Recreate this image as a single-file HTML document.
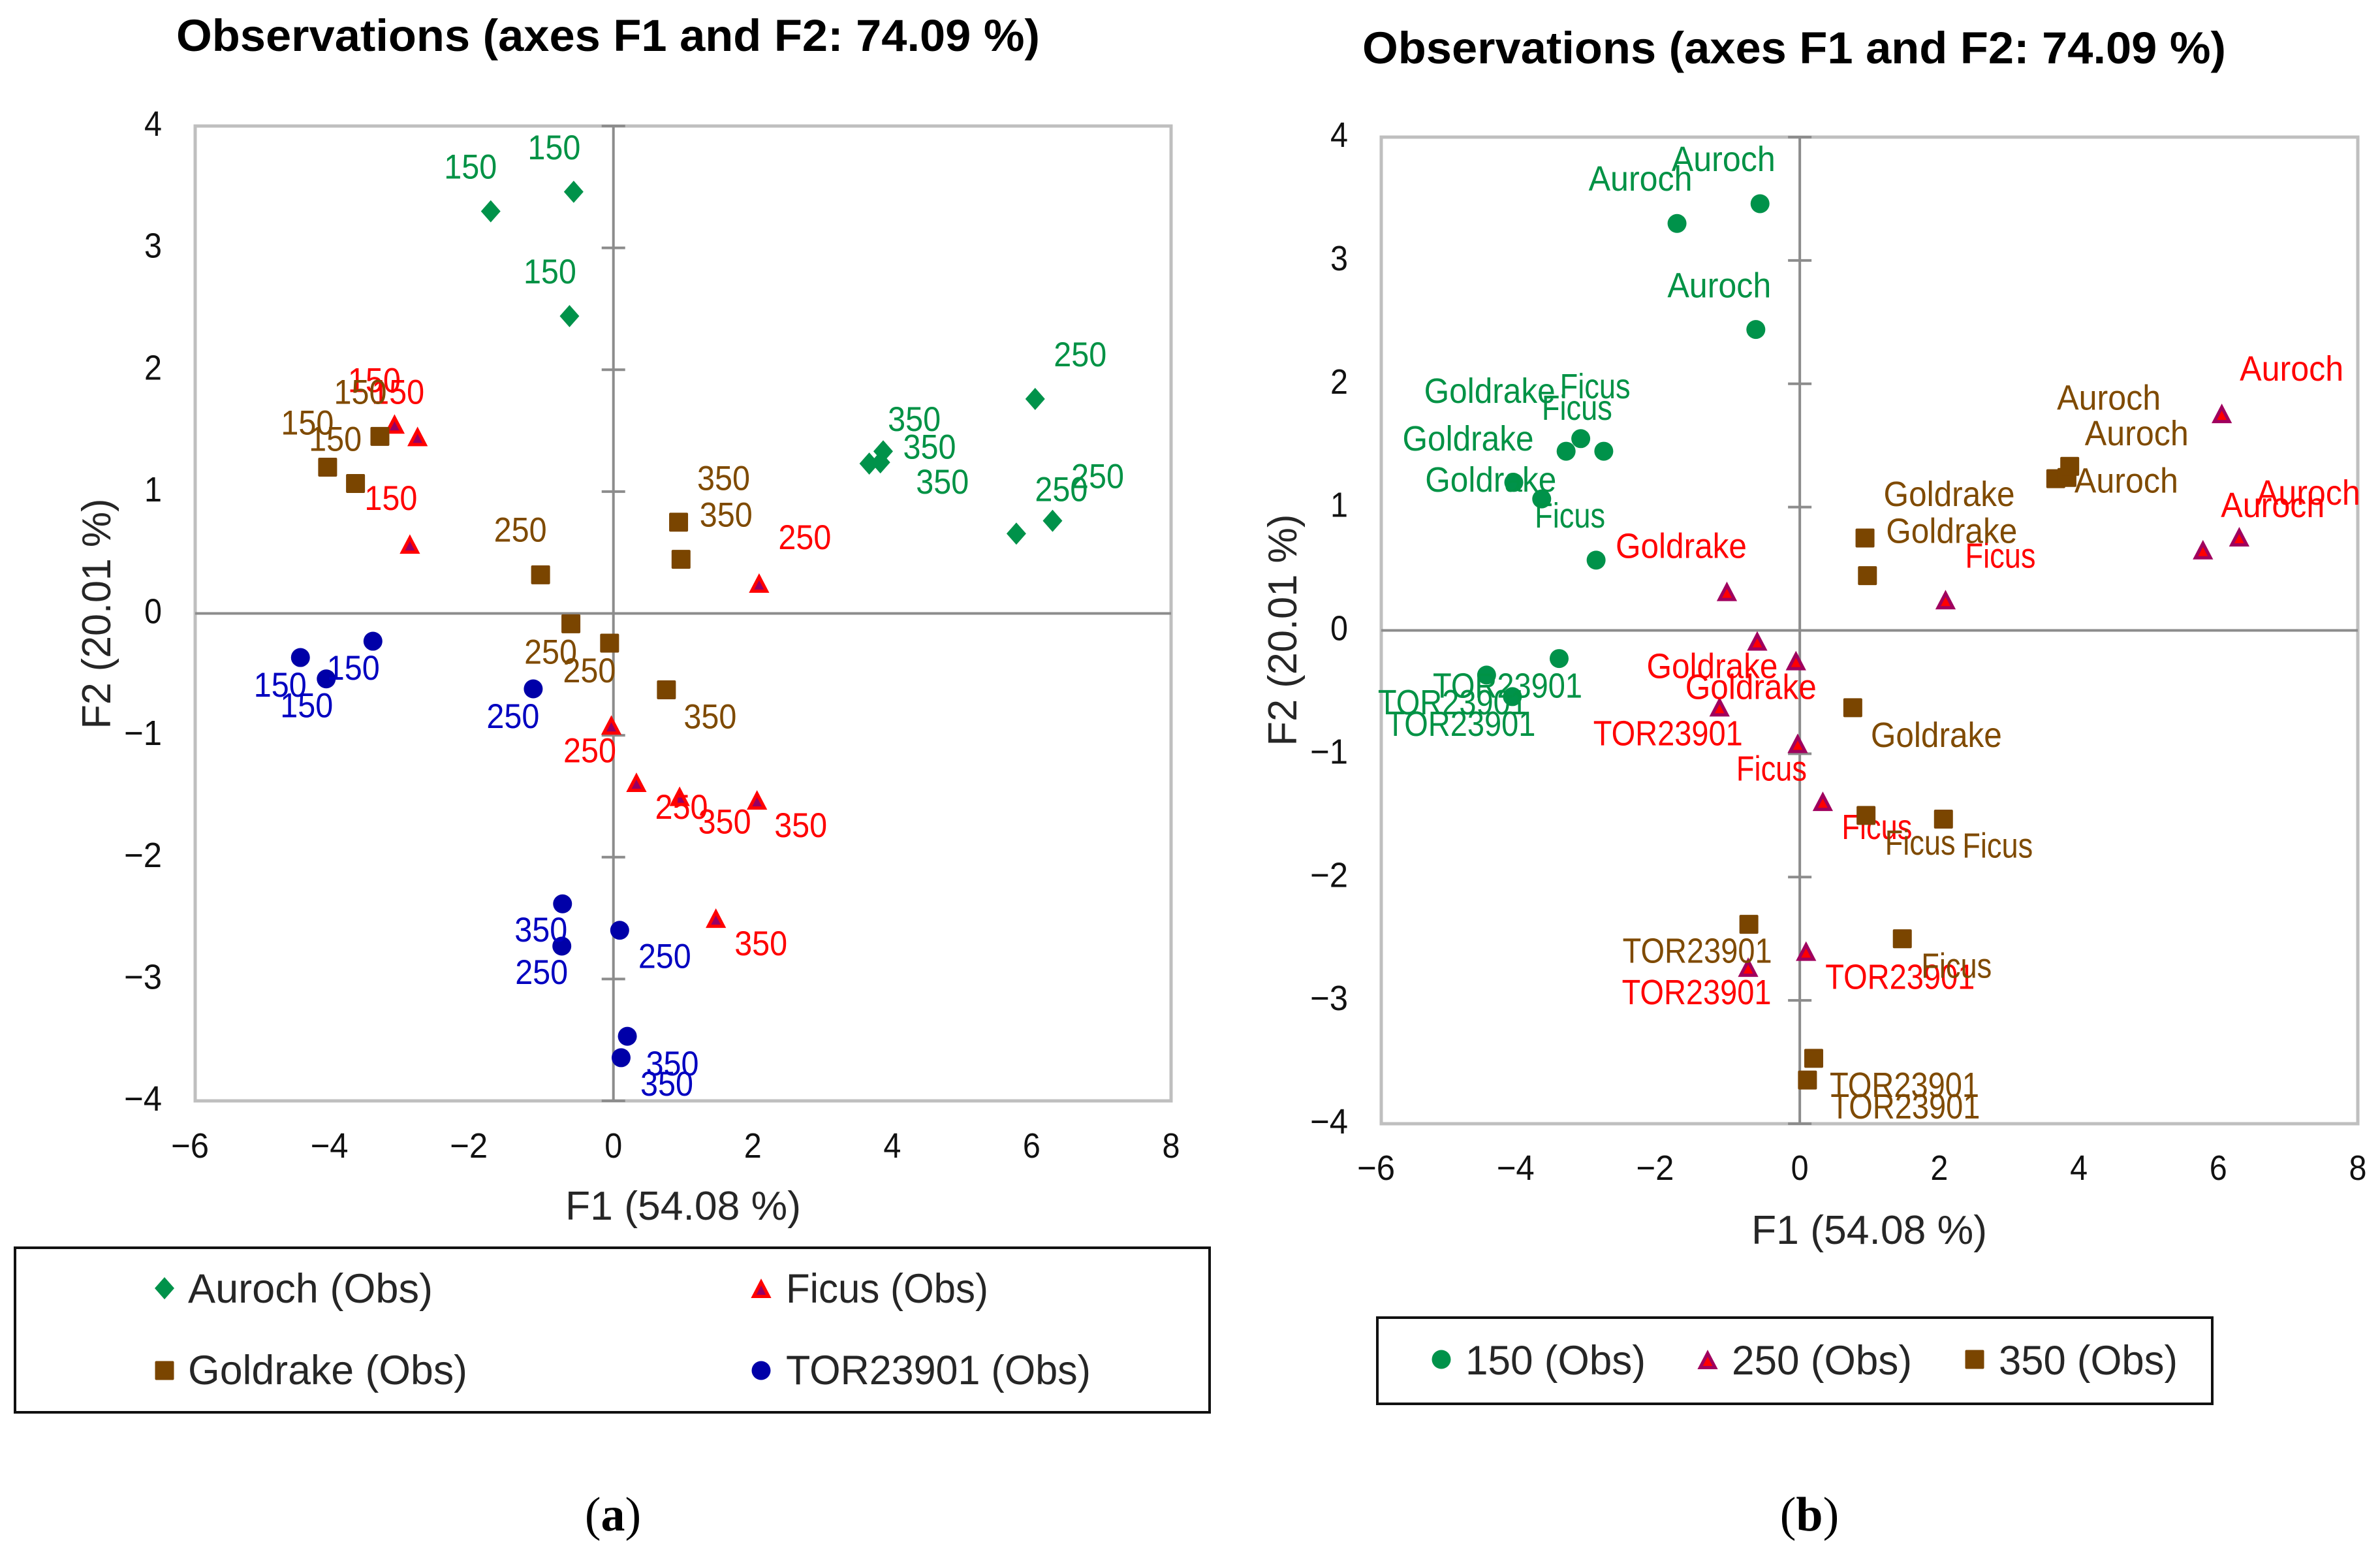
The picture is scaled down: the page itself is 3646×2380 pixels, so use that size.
<!DOCTYPE html>
<html lang="en">
<head>
<meta charset="utf-8">
<title>Observations (axes F1 and F2: 74.09 %)</title>
<style>
html,body{margin:0;padding:0;background:#fff;}
svg{display:block;}
text{font-family:"Liberation Sans",Arial,sans-serif;}
.cap{font-family:"Liberation Serif","Times New Roman",serif;font-size:74px;fill:#000;}
</style>
</head>
<body>
<svg id="figure" xmlns="http://www.w3.org/2000/svg" width="3646" height="2380" viewBox="0 0 3646 2380">
  <rect x="0" y="0" width="3646" height="2380" fill="#ffffff"/>

  <text x="270" y="78" font-size="69" font-weight="bold" textLength="1323" lengthAdjust="spacingAndGlyphs">Observations (axes F1 and F2: 74.09 %)</text>
  <text x="2087" y="97" font-size="69" font-weight="bold" textLength="1323" lengthAdjust="spacingAndGlyphs">Observations (axes F1 and F2: 74.09 %)</text>

  <text x="866" y="1868" font-size="62" fill="#262626" textLength="361" lengthAdjust="spacingAndGlyphs">F1 (54.08 %)</text>
  <text x="2683" y="1905" font-size="62" fill="#262626" textLength="361" lengthAdjust="spacingAndGlyphs">F1 (54.08 %)</text>
  <text transform="translate(169,940) rotate(-90)" text-anchor="middle" font-size="62" fill="#262626" textLength="353" lengthAdjust="spacingAndGlyphs">F2 (20.01 %)</text>
  <text transform="translate(1986,965) rotate(-90)" text-anchor="middle" font-size="62" fill="#262626" textLength="355" lengthAdjust="spacingAndGlyphs">F2 (20.01 %)</text>

  <rect x="23" y="1911" width="1830" height="252" fill="#fff" stroke="#111" stroke-width="4"/>
  <rect x="2110" y="2018" width="1279" height="132" fill="#fff" stroke="#111" stroke-width="4"/>

  <text x="288" y="1995" font-size="63" fill="#262626" textLength="375" lengthAdjust="spacingAndGlyphs">Auroch (Obs)</text>
  <text x="1204" y="1995" font-size="63" fill="#262626" textLength="310" lengthAdjust="spacingAndGlyphs">Ficus (Obs)</text>
  <text x="288" y="2120" font-size="63" fill="#262626" textLength="428" lengthAdjust="spacingAndGlyphs">Goldrake (Obs)</text>
  <text x="1204" y="2120" font-size="63" fill="#262626" textLength="467" lengthAdjust="spacingAndGlyphs">TOR23901 (Obs)</text>
  <text x="2245" y="2105" font-size="63" fill="#262626" textLength="276" lengthAdjust="spacingAndGlyphs">150 (Obs)</text>
  <text x="2653" y="2105" font-size="63" fill="#262626" textLength="276" lengthAdjust="spacingAndGlyphs">250 (Obs)</text>
  <text x="3062" y="2105" font-size="63" fill="#262626" textLength="274" lengthAdjust="spacingAndGlyphs">350 (Obs)</text>

  <text class="cap" x="939" y="2344" text-anchor="middle">(<tspan font-weight="bold">a</tspan>)</text>
  <text class="cap" x="2772" y="2344" text-anchor="middle">(<tspan font-weight="bold">b</tspan>)</text>

  <g id="chart-a"></g>
  <g id="chart-b"></g>
  <g id="legend-markers"></g>
</svg>

<script>
// Chart data. Each series holds 150, 250, 350 triplets.
const varieties = ['Auroch', 'Ficus', 'Goldrake', 'TOR23901'];
const doses = ['150', '250', '350'];
const xTicks = [-6, -4, -2, 0, 2, 4, 6, 8];
const yTicks = [-4, -3, -2, -1, 0, 1, 2, 3, 4];

const aurochF1 = [-1.76, -0.57, -0.63, 6.05, 6.30, 5.78, 3.67, 3.83, 3.87];
const aurochF2 = [3.30, 3.46, 2.44, 1.76, 0.76, 0.655, 1.23, 1.24, 1.33];
const ficusF1 = [-3.14, -2.81, -2.92, 2.09, -0.03, 0.33, 0.95, 2.06, 1.47];
const ficusF2 = [1.555, 1.453, 0.57, 0.25, -0.915, -1.385, -1.50, -1.53, -2.50];
const goldrakeF1 = [-3.35, -4.10, -3.70, -1.045, -0.61, -0.055, 0.935, 0.97, 0.76];
const goldrakeF2 = [1.453, 1.20, 1.066, 0.317, -0.085, -0.244, 0.749, 0.444, -0.627];
const torF1 = [-4.49, -4.12, -3.45, -1.15, 0.09, -0.74, -0.73, 0.20, 0.11];
const torF2 = [-0.362, -0.537, -0.228, -0.619, -2.60, -2.73, -2.383, -3.47, -3.646];

const seriesF1 = { Auroch: aurochF1, Ficus: ficusF1, Goldrake: goldrakeF1, TOR23901: torF1 };
const seriesF2 = { Auroch: aurochF2, Ficus: ficusF2, Goldrake: goldrakeF2, TOR23901: torF2 };

const NS = 'http://www.w3.org/2000/svg';

function make(tag, attrs, parent) {
  const el = document.createElementNS(NS, tag);
  for (const k in attrs) el.setAttribute(k, attrs[k]);
  parent.appendChild(el);
  return el;
}

function drawMarker(parent, shape, cx, cy, color, triFill, triStroke) {
  let el;
  if (shape === 'diamond') {
    el = make('polygon', { points: [[cx, cy - 17], [cx + 15, cy], [cx, cy + 17], [cx - 15, cy]].join(' '), fill: color }, parent);
  } else if (shape === 'square') {
    el = make('rect', { x: cx - 14.5, y: cy - 14.5, width: 29, height: 29, rx: 2, fill: color }, parent);
  } else if (shape === 'circle') {
    el = make('circle', { cx: cx, cy: cy, r: 14.5, fill: color }, parent);
  } else {
    el = make('polygon', { points: [[cx, cy - 9.5], [cx + 11.5, cy + 12.5], [cx - 11.5, cy + 12.5]].join(' '), fill: triFill, stroke: triStroke, 'stroke-width': 5 }, parent);
  }
  return el;
}

function drawLabel(parent, text, cx, cy, color) {
  const widths = { Goldrake: 201, Auroch: 159, Ficus: 108, TOR23901: 229 };
  const width = widths[text] || 81;
  const el = make('text', {
    x: cx, y: cy + 18, 'text-anchor': 'middle', 'font-size': widths[text] ? 54 : 53,
    fill: color, textLength: width, lengthAdjust: 'spacingAndGlyphs'
  }, parent);
  el.textContent = text;
  return el;
}

function drawChart(root, geo) {
  const xs = v => geo.left + (v - (-6)) / 14 * (geo.right - geo.left);
  const ys = v => geo.bottom - (v - (-4)) / 8 * (geo.bottom - geo.top);

  const frame = make('rect', { x: geo.left, y: geo.top, width: geo.right - geo.left, height: geo.bottom - geo.top, fill: 'none', stroke: '#bfbfbf', 'stroke-width': 5 }, root);
  
  

  const hAxis = make('line', { x1: geo.left, x2: geo.right, y1: ys(0), y2: ys(0), stroke: '#8c8c8c', 'stroke-width': 4 }, root);
  
  
  const vAxis = make('line', { x1: xs(0), x2: xs(0), y1: geo.top, y2: geo.bottom, stroke: '#8c8c8c', 'stroke-width': 4 }, root);
  
  

  yTicks.forEach(t => {
    const tick = make('line', { x1: xs(0) - 18, x2: xs(0) + 18, y1: ys(t), y2: ys(t), stroke: '#8c8c8c', 'stroke-width': 4 }, root);
    
    
    const lab = make('text', { x: geo.left - 51, y: ys(t) + 15, 'text-anchor': 'end', 'font-size': 54, fill: '#111', textLength: t < 0 ? 58 : 27, lengthAdjust: 'spacingAndGlyphs' }, root);
    lab.textContent = String(t).replace('-', '\u2212');
    
    
  });
  xTicks.forEach(t => {
    const lab = make('text', { x: xs(t) + (t < 0 ? -8 : 0), y: geo.labelY, 'text-anchor': 'middle', 'font-size': 54, fill: '#111', textLength: t < 0 ? 58 : 27, lengthAdjust: 'spacingAndGlyphs' }, root);
    lab.textContent = String(t).replace('-', '\u2212');
    
    
  });

  const order = geo.byDose ? [0, 1, 2] : [0, 1, 2, 3];
  order.forEach(group => {
    varieties.forEach((variety, vi) => {
      seriesF1[variety].forEach((f1, i) => {
        const doseIdx = Math.floor(i / 3);
        if ((geo.byDose ? doseIdx : vi) !== group) return;
        const f2 = seriesF2[variety][i];
        const px = xs(f1), py = ys(f2);
        const style = geo.style(vi, doseIdx);
        const mk = drawMarker(root, style.shape, px, py, style.color, geo.triFill, geo.triStroke);
        
        
      });
    });
    varieties.forEach((variety, vi) => {
      seriesF1[variety].forEach((f1, i) => {
        const doseIdx = Math.floor(i / 3);
        if ((geo.byDose ? doseIdx : vi) !== group) return;
        const f2 = seriesF2[variety][i];
        const off = geo.offsets[vi][i];
        const text = geo.byDose ? variety : doses[doseIdx];
        const lab = drawLabel(root, text, xs(f1) + off[0], ys(f2) + off[1], geo.labelColor(vi, doseIdx));
        
        
      });
    });
  });
}

const GREEN = '#00924a', BROWN = '#7a4500', BLUE = '#0000a8';
const RED = '#ff0000', PURPLE = '#960064';

drawChart(document.getElementById('chart-a'), {
  left: 299, right: 1794, top: 193, bottom: 1686, labelY: 1773, byDose: false,
  triFill: PURPLE, triStroke: RED,
  style: vi => [{ shape: 'diamond', color: GREEN }, { shape: 'triangle' }, { shape: 'square', color: BROWN }, { shape: 'circle', color: BLUE }][vi],
  labelColor: vi => ['#009245', '#ff0000', '#7f4a00', '#0000c0'][vi],
  offsets: [
    [[-31,-68],[-30,-68],[-30,-68],[69,-68],[69,-68],[69,-68],[69,-68],[95,30],[71,-7]],
    [[-31,-67],[-30,-68],[-29,-70],[70,-70],[-33,39],[69,38],[69,39],[67,39],[69,39]],
    [[-30,-68],[-31,-68],[-31,-68],[-31,-69],[-31,43],[-31,42],[69,-67],[69,-68],[67,41]],
    [[-31,42],[-30,41],[-30,41],[-31,42],[69,40],[-31,40],[-33,40],[69,42],[70,40]]
  ]
});

drawChart(document.getElementById('chart-b'), {
  left: 2116, right: 3612, top: 210, bottom: 1721, labelY: 1807, byDose: true,
  triFill: RED, triStroke: '#a0005e',
  style: (vi, di) => [{ shape: 'circle', color: GREEN }, { shape: 'triangle' }, { shape: 'square', color: BROWN }][di],
  labelColor: (vi, di) => ['#009245', '#ff0000', '#7f4a00'][di],
  offsets: [
    [[-56,-68],[-56,-68],[-56,-67],[107,-68],[106,-67],[107,-68],[124,-69],[91,5],[60,-105]],
    [[22,-80],[-41,-66],[-40,-68],[84,-67],[-40,39],[83,40],[83,42],[83,41],[83,42]],
    [[-117,-92],[-70,-67],[-78,-29],[-70,-69],[-69,39],[-69,41],[129,-67],[129,-68],[128,42]],
    [[-52,42],[-79,42],[-79,42],[-79,41],[144,40],[-79,39],[-79,41],[139,41],[150,41]]
  ]
});

const legendRoot = document.getElementById('legend-markers');
const lmA = drawMarker(legendRoot, 'diamond', 252, 1973, GREEN);


const lmF = drawMarker(legendRoot, 'triangle', 1166, 1973, '', PURPLE, RED);


const lmG = drawMarker(legendRoot, 'square', 252, 2099, BROWN);


const lmT = drawMarker(legendRoot, 'circle', 1166, 2099, BLUE);


const lm1 = drawMarker(legendRoot, 'circle', 2208, 2082, GREEN);


const lm2 = drawMarker(legendRoot, 'triangle', 2616, 2082, '', RED, '#a0005e');


const lm3 = drawMarker(legendRoot, 'square', 3025, 2082, BROWN);


</script>
</body>
</html>
